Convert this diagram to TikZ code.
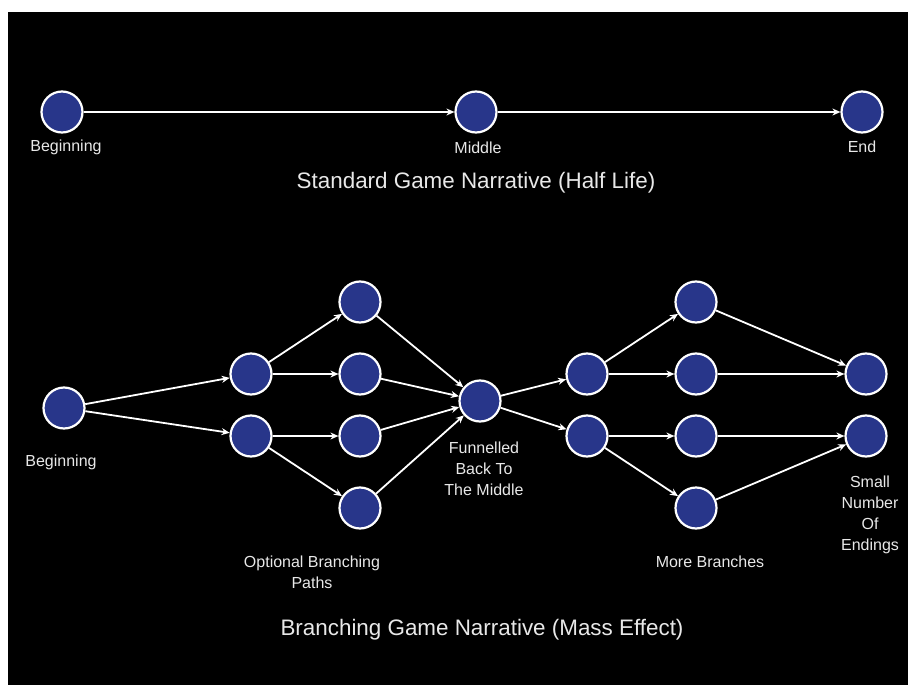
\documentclass[tikz,border=0pt]{standalone}
\usepackage{fontspec}
\setmainfont{Liberation Sans}
\usetikzlibrary{arrows.meta}
\definecolor{nodeblue}{RGB}{40,54,138}
\definecolor{labelgray}{RGB}{232,232,232}
\begin{document}
\begin{tikzpicture}[x=1pt,y=-1pt,
  stage/.style={circle,draw=white,fill=nodeblue,line width=2.2pt,minimum size=41pt,inner sep=0pt},
  link/.style={draw=white,line width=1.8pt,-{Stealth[length=8pt,width=7pt]}},
  caption/.style={text=labelgray,font=\fontsize{16}{21}\selectfont,align=center,inner sep=0pt},
  heading/.style={text=labelgray,font=\fontsize{22.4}{26}\selectfont,inner sep=0pt}]
% page and dark panel
\fill[white] (0,0) rectangle (908,685);
\fill[black] (8,12) rectangle (908,685);
\useasboundingbox (0,0) rectangle (908,685);

% linear narrative
\node[stage] (b) at (62,112) {};
\node[stage] (m) at (476,112) {};
\node[stage] (e) at (862,112) {};
\draw[link] (b) -- (m);
\draw[link] (m) -- (e);
\node[caption] (lb) at (66,147) {Beginning};
\node[caption] (lm) at (478,148) {Middle};
\node[caption] (le) at (862,147) {End};
\node[heading] (t1) at (476,183) {Standard Game Narrative (Half Life)};

% branching narrative
\node[stage] (s) at (64,408) {};
\node[stage] (p1) at (251,374) {};
\node[stage] (p2) at (251,436) {};
\node[stage] (q1) at (360,302) {};
\node[stage] (q2) at (360,374) {};
\node[stage] (q3) at (360,436) {};
\node[stage] (q4) at (360,508) {};
\node[stage] (f) at (480,401) {};
\node[stage] (r1) at (587,374) {};
\node[stage] (r2) at (587,436) {};
\node[stage] (u1) at (696,302) {};
\node[stage] (u2) at (696,374) {};
\node[stage] (u3) at (696,436) {};
\node[stage] (u4) at (696,508) {};
\node[stage] (z1) at (866,374) {};
\node[stage] (z2) at (866,436) {};

\foreach \a/\c in {s/p1,s/p2,p1/q1,p1/q2,p2/q3,p2/q4,q1/f,q2/f,q3/f,q4/f,
  f/r1,f/r2,r1/u1,r1/u2,r2/u3,r2/u4,u1/z1,u2/z1,u3/z2,u4/z2}
  \draw[link] (\a) -- (\c);

\node[caption] (ls) at (61,462) {Beginning};
\node[caption] (lf) at (484,469) {Funnelled\\Back To\\The Middle};
\node[caption] (lz) at (870,515) {Small\\Number\\Of\\Endings};
\node[caption] (lo) at (312,572) {Optional Branching\\Paths};
\node[caption] (lu) at (710,562) {More Branches};
\node[heading] (t2) at (482,630) {Branching Game Narrative (Mass Effect)};
\end{tikzpicture}
\end{document}
